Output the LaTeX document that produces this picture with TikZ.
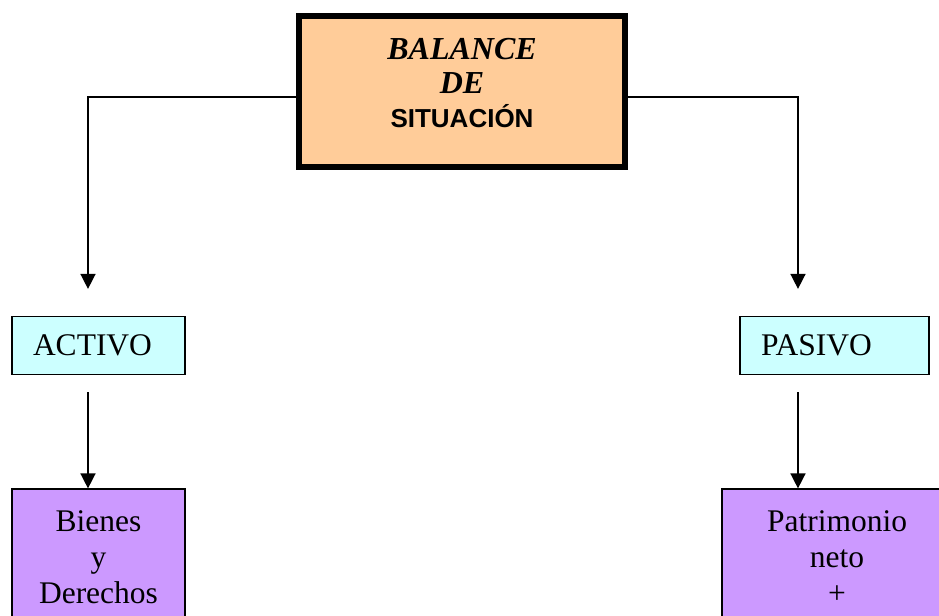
\documentclass[tikz,border=0pt]{standalone}
\usepackage{fontspec}
\setmainfont{Liberation Serif}
\newfontfamily\arialfont{Liberation Sans}
\usetikzlibrary{arrows.meta}

\definecolor{salmon}{HTML}{FFCC99}
\definecolor{celeste}{HTML}{CCFFFF}
\definecolor{lila}{HTML}{CC99FF}

\tikzstyle{titlebox}=[draw,line width=3pt,fill=salmon,minimum width=163pt,minimum height=75.5pt]
\tikzstyle{titletext}=[align=center,inner sep=0pt,font=\fontsize{16}{17}\selectfont\bfseries\itshape]
\tikzstyle{cuenta}=[draw,line width=0.6pt,fill=celeste,minimum height=29pt,align=left,inner xsep=10.5pt,font=\fontsize{15.75}{18}\selectfont]
\tikzstyle{grupo}=[draw,line width=0.6pt,fill=lila,minimum height=68pt,align=center,font=\fontsize{15.75}{18}\selectfont]
\tikzstyle{edge}=[draw,line width=0.75pt,-{Triangle[width=7.5pt,length=7.5pt]}]

\begin{document}
\begin{tikzpicture}[x=0.5pt,y=-0.5pt]
	\clip (0,0) rectangle (939,616);
	% title box
	\node[titlebox] (bal) at (462,91.5) {};
	\node[titletext] (baltxt) at (462,83.5) {BALANCE\\DE\\{\arialfont\upshape\fontsize{13}{17}\selectfont SITUACIÓN}};
	% accounts
	\node[cuenta,text width=65.5pt] (activo) at (98.5,345.5) {ACTIVO};
	\node[cuenta,text width=73.5pt] (pasivo) at (834.5,345.5) {PASIVO};
	\node[grupo,minimum width=86.5pt] (bienes) at (98.5,557) {Bienes\\y\\Derechos};
	\node[grupo,minimum width=115pt] (patri) at (837,557) {Patrimonio\\neto\\+};
	% columns of the arrows
	\coordinate (colA) at (88,0);
	\coordinate (colP) at (798,0);
	% connect boxes with arrows
	\path[edge,shorten >=13.5pt] ([yshift=-2.75pt]bal.west) -| (activo.north -| colA);
	\path[edge,shorten >=13.5pt] ([yshift=-2.75pt]bal.east) -| (pasivo.north -| colP);
	\foreach \source/\dest/\col in {activo/bienes/colA, pasivo/patri/colP}
		\path[edge,shorten <=8.5pt] (\source.south -| \col) -- (\dest.north -| \col);
\end{tikzpicture}
\end{document}
